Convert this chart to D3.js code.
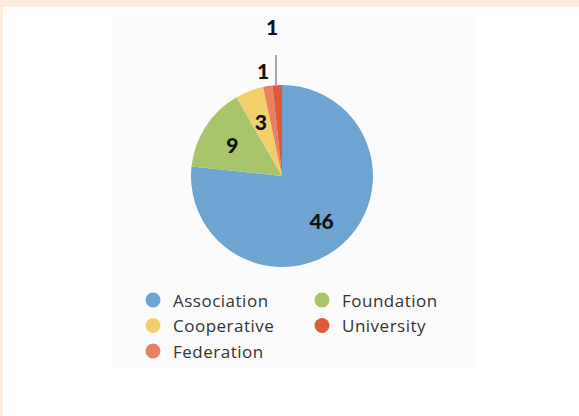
<!DOCTYPE html>
<html>
<head>
<meta charset="utf-8">
<script src="https://cdn.jsdelivr.net/npm/d3@7"></script>
<style>
  body { margin: 0; background: #fff; }
  svg { display: block; }
</style>
</head>
<body>
<svg id="chart" width="579" height="416"></svg>
<script>
// slice order clockwise from 12 o'clock
const categories = ['Association', 'Foundation', 'Cooperative', 'Federation', 'University'];
const counts = [46, 9, 3, 1, 1];
const colors = ['#6da4d2', '#a8c56b', '#f3cf6c', '#e8825e', '#de5a3a'];
// legend reads row by row, two columns
const legendOrder = ['Association', 'Foundation', 'Cooperative', 'University', 'Federation'];

const svg = d3.select('#chart');

// page frame: peach strip top and left, off-white panel behind the chart
svg.append('rect').attr('width', 579).attr('height', 416).attr('fill', '#fdebdc');
svg.append('rect').attr('x', 3).attr('y', 7).attr('width', 576).attr('height', 409).attr('fill', '#fff');
svg.append('rect').attr('x', 112).attr('y', 13).attr('width', 364).attr('height', 355).attr('fill', '#fbfbfb');

const cx = 282, cy = 176, r = 91;
const data = categories.map((c, i) => ({cat: c, value: counts[i]}));
const color = d3.scaleOrdinal().domain(categories).range(colors);

const pie = d3.pie().value(d => d.value).sort(null);
const arc = d3.arc().innerRadius(0).outerRadius(r);
const arcs = pie(data);

const g = svg.append('g').attr('transform', `translate(${cx},${cy})`);
g.selectAll('path').data(arcs).join('path')
  .attr('d', arc)
  .attr('fill', d => color(d.data.cat));

// inside labels for the big slices, tiny ones stacked above the pie
const labelArc = d3.arc().innerRadius(r * 0.65).outerRadius(r * 0.65);
const outside = {Federation: [-19, -r - 16], University: [-10, -r - 60]};
const labelFont = "'Lato', 'Noto Sans', sans-serif";
arcs.forEach(a => {
  const [x, y] = outside[a.data.cat] || labelArc.centroid(a);
  g.append('text')
    .attr('x', x).attr('y', y + 1)
    .attr('text-anchor', 'middle')
    .attr('dominant-baseline', 'central')
    .attr('font-family', labelFont)
    .attr('font-weight', 900)
    .attr('font-size', 21)
    .attr('fill', '#111')
    .text(a.data.value);
});
// leader line for the topmost "1"
g.append('line')
  .attr('x1', -6).attr('x2', -6)
  .attr('y1', -r - 30).attr('y2', -r)
  .attr('stroke', '#555').attr('stroke-width', 1);

// legend
const legend = svg.append('g').attr('transform', 'translate(153,300)');
const item = legend.selectAll('g').data(legendOrder).join('g')
  .attr('transform', (d, i) => `translate(${(i % 2) * 169},${Math.floor(i / 2) * 25.5})`);
item.append('circle').attr('r', 7.5).attr('fill', d => color(d));
item.append('text')
  .attr('x', 20).attr('y', 0)
  .attr('dominant-baseline', 'central')
  .attr('font-family', "'Open Sans', 'Noto Sans', sans-serif")
  .attr('font-size', 17)
  .attr('letter-spacing', 0.5)
  .attr('fill', '#333')
  .text(d => d);
</script>
</body>
</html>
